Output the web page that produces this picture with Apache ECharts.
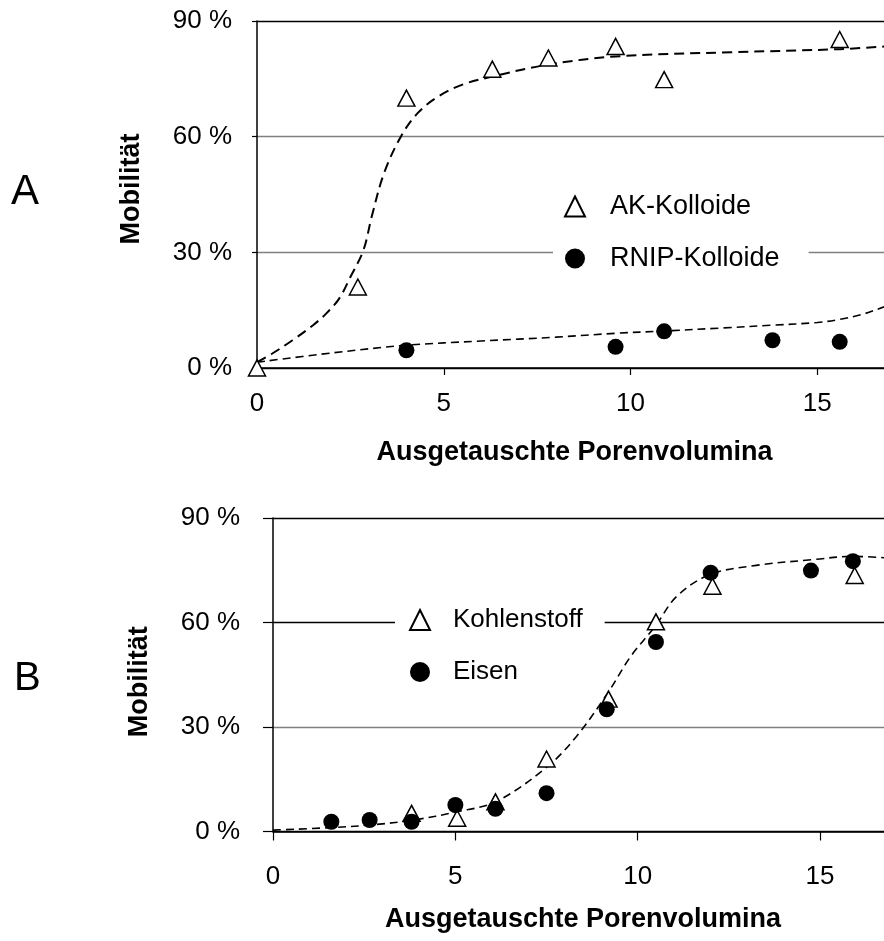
<!DOCTYPE html>
<html><head><meta charset="utf-8">
<script src="https://cdn.jsdelivr.net/npm/echarts@6/dist/echarts.min.js"></script>
<style>html,body{margin:0;padding:0;background:#fff}#c{width:884px;height:941px}</style>
</head><body><div id="c"></div>
<script>
// ---------- Panel A ----------
const xTicks = [0, 5, 10, 15];
const yTicks = [0, 30, 60, 90];
const akX = [0, 2.7, 4.0, 6.3, 7.8, 9.6, 10.9, 15.6];
const akY = [0, 21.0, 70.0, 77.5, 80.4, 83.4, 74.8, 85.2];
const rnipX = [4.0, 9.6, 10.9, 13.8, 15.6];
const rnipY = [4.6, 5.5, 9.5, 7.2, 6.8];
const akFitX = [0, 0.4, 0.95, 1.5, 1.85, 2.2, 2.5, 2.85, 3.07, 3.4, 3.85, 4.3, 4.85, 5.5, 6.3, 7.8, 9.6, 12.7, 15.6, 17];
const akFitY = [1.5, 3.7, 7.2, 11.1, 14.1, 18.0, 23.6, 30.6, 39.2, 50.5, 60.0, 66.1, 70.4, 73.5, 75.6, 78.7, 80.8, 81.9, 82.7, 83.5];
const rnipFitX = [0, 2, 4, 6, 8, 9.6, 10.9, 12.5, 13.8, 15.0, 15.6, 16.2, 16.8, 17];
const rnipFitY = [1.5, 3.9, 5.9, 7.0, 8.0, 9.0, 9.6, 10.4, 11.1, 11.8, 12.6, 13.9, 15.9, 16.6];
// ---------- Panel B ----------
const kohleX = [3.8, 5.05, 6.1, 7.5, 9.2, 10.5, 12.05, 15.95];
const kohleY = [5.2, 3.8, 8.5, 20.8, 38.0, 60.2, 70.4, 73.5];
const eisenX = [1.6, 2.65, 3.8, 5.0, 6.1, 7.5, 9.15, 10.5, 12.0, 14.75, 15.9];
const eisenY = [2.8, 3.3, 2.8, 7.6, 6.5, 11.0, 35.1, 54.4, 74.3, 74.9, 77.6];
const bFitX = [0, 1.56, 2.71, 3.86, 5.06, 6.12, 7.52, 8.32, 9.18, 9.81, 10.48, 11.07, 11.99, 13.25, 14.86, 15.88, 17];
const bFitY = [0.4, 1.1, 1.9, 3.3, 5.7, 8.6, 18.6, 27.3, 39.8, 50.3, 58.9, 67.5, 73.8, 76.4, 78.1, 79.0, 78.4];

const xTitle = 'Ausgetauschte Porenvolumina';
const yTitle = 'Mobilität';

const FONT = '"Liberation Sans", Arial, Helvetica, sans-serif';
const pair = (xs, ys) => xs.map((x, i) => [x, ys[i]]);

function xAxisCfg(grid, tickLen, labelMargin, nameGap) {
  return {
    type: 'value', gridIndex: grid, min: 0, max: 17,
    axisLine: { show: true, lineStyle: { color: '#000', width: 1.5 } },
    axisTick: { show: true, customValues: xTicks, length: tickLen, lineStyle: { color: '#000', width: 1.2 } },
    axisLabel: { customValues: xTicks, margin: labelMargin, fontSize: 26, color: '#000', fontFamily: FONT },
    splitLine: { show: false },
    name: xTitle, nameLocation: 'middle', nameGap: nameGap,
    nameTextStyle: { fontSize: 27, fontWeight: 'bold', color: '#000', fontFamily: FONT }
  };
}
function yAxisCfg(grid, tickLen, labelMargin, nameGap, colors, namePad) {
  return {
    type: 'value', gridIndex: grid, min: 0, max: 90, interval: 30,
    axisLine: { show: true, lineStyle: { color: '#000', width: 1.5 } },
    axisTick: { show: true, length: tickLen, lineStyle: { color: '#000', width: 1.2 } },
    axisLabel: { formatter: '{value} %', margin: labelMargin, fontSize: 26, color: '#000', fontFamily: FONT },
    splitLine: { show: true, lineStyle: { color: colors, width: 1.3 } },
    name: yTitle, nameLocation: 'middle', nameGap: nameGap,
    nameTextStyle: { fontSize: 27, fontWeight: 'bold', color: '#000', fontFamily: FONT, padding: namePad }
  };
}
const triStyle = { color: '#fff', borderColor: '#000', borderWidth: 1.5, opacity: 1 };
const dotStyle = { color: '#000', opacity: 1 };

const option = {
  backgroundColor: '#fff',
  animation: false,
  title: [
    { text: 'A', left: 11, top: 171, padding: 0, textStyle: { fontSize: 42, fontWeight: 'normal', color: '#000', fontFamily: FONT } },
    { text: 'B', left: 14, top: 659, padding: 0, textStyle: { fontSize: 40, fontWeight: 'normal', color: '#000', fontFamily: FONT } }
  ],
  grid: [
    { left: 257, top: 21, width: 635, height: 347, outerBoundsMode: 'none' },
    { left: 273, top: 518, width: 620, height: 313.5, outerBoundsMode: 'none' }
  ],
  xAxis: [xAxisCfg(0, 7, 23, 71), xAxisCfg(1, 9, 32, 75)],
  yAxis: [
    yAxisCfg(0, 5, 25, 112, ['#000', '#808080', '#808080', '#000'], [0, 0, 0, 11]),
    yAxisCfg(1, 10, 33, 120, ['#000', '#808080', '#000', '#000'], [0, 14, 0, 0])
  ],
  legend: [
    {
      orient: 'vertical', left: 553, top: 183, padding: [10, 29, 10, 11],
      backgroundColor: '#fff', itemWidth: 20, itemHeight: 20, itemGap: 25, selectedMode: false,
      data: ['AK-Kolloide', 'RNIP-Kolloide'],
      textStyle: { fontSize: 27, lineHeight: 27, color: '#000', fontFamily: FONT, padding: [0, 0, 0, 20] }
    },
    {
      orient: 'vertical', left: 395, top: 597, padding: [10, 22, 10, 14],
      backgroundColor: '#fff', itemWidth: 20, itemHeight: 20, itemGap: 26, selectedMode: false,
      data: ['Kohlenstoff', 'Eisen'],
      textStyle: { fontSize: 26, lineHeight: 26, color: '#000', fontFamily: FONT, padding: [0, 0, 0, 18] }
    }
  ],
  series: [
    { name: 'AK-Fit', type: 'line', xAxisIndex: 0, yAxisIndex: 0, data: pair(akFitX, akFitY), smooth: 0.35,
      showSymbol: false, symbol: 'none', lineStyle: { color: '#000', width: 2, type: [10, 6] }, z: 1, silent: true },
    { name: 'RNIP-Fit', type: 'line', xAxisIndex: 0, yAxisIndex: 0, data: pair(rnipFitX, rnipFitY), smooth: 0.35,
      showSymbol: false, symbol: 'none', lineStyle: { color: '#000', width: 1.6, type: [8, 5] }, z: 1, silent: true },
    { name: 'AK-Kolloide', type: 'scatter', xAxisIndex: 0, yAxisIndex: 0, data: pair(akX, akY),
      symbol: 'triangle', symbolSize: [17, 16], itemStyle: triStyle, z: 3 },
    { name: 'RNIP-Kolloide', type: 'scatter', xAxisIndex: 0, yAxisIndex: 0, data: pair(rnipX, rnipY),
      symbol: 'circle', symbolSize: 16, itemStyle: dotStyle, z: 4 },
    { name: 'B-Fit', type: 'line', xAxisIndex: 1, yAxisIndex: 1, data: pair(bFitX, bFitY), smooth: 0.35,
      showSymbol: false, symbol: 'none', lineStyle: { color: '#000', width: 1.6, type: [8, 5] }, z: 1, silent: true },
    { name: 'Kohlenstoff', type: 'scatter', xAxisIndex: 1, yAxisIndex: 1, data: pair(kohleX, kohleY),
      symbol: 'triangle', symbolSize: [17, 16], itemStyle: triStyle, z: 3 },
    { name: 'Eisen', type: 'scatter', xAxisIndex: 1, yAxisIndex: 1, data: pair(eisenX, eisenY),
      symbol: 'circle', symbolSize: 16, itemStyle: dotStyle, z: 4 }
  ]
};
const chart = echarts.init(document.getElementById('c'));
chart.setOption(option);
</script>
</body></html>
